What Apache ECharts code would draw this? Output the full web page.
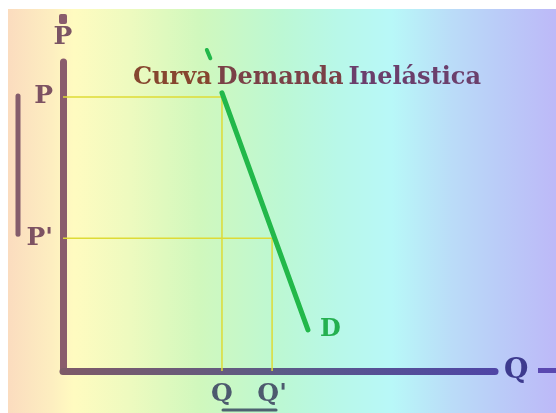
<!DOCTYPE html>
<html>
<head>
<meta charset="utf-8">
<script src="https://cdn.jsdelivr.net/npm/echarts@6/dist/echarts.min.js"></script>
<style>
html, body { margin: 0; padding: 0; background: #fff; }
.wrap { position: relative; width: 556px; height: 413px; overflow: hidden; }
.bg {
    position: absolute; left: 8px; top: 9px; width: 548px; height: 404px;
    background: linear-gradient(to right,
        #fbdcbf 0%, #fdeec0 8%, #fffbc0 12%, #eefabf 22%, #d0f8bd 35%,
        #bcf8d4 50%, #b8f8e8 60%, #b8f8f8 70%, #badcf8 81%, #bacbf8 90%, #bdb9f8 100%);
}
#chart { position: absolute; left: 0; top: 0; width: 556px; height: 413px; }
</style>
</head>
<body>
<div class="wrap">
    <div class="bg"></div>
    <div id="chart"></div>
</div>
<script>
// niveles de precio y cantidad (unidades del eje, 0-100)
const priceLevels = [88.7, 43.0];
const priceNames = ['P', "P'"];
const qtyLevels = [36.8, 48.4];
const qtyNames = ['Q', "Q'"];
// curva de demanda D
const demandX = [36.8, 56.7];
const demandY = [90.0, 13.3];
// trozo de la curva que asoma por encima del titulo
const demandTopX = [33.3, 34.1];
const demandTopY = [103.9, 101.2];

const serif = '"DejaVu Serif", "Liberation Serif", serif';
const green = '#22b84a';
const guide = '#dedb36';

let myChart = echarts.init(document.getElementById('chart'));

let guideSeries = priceLevels.map(function (p, i) {
    return {
        type: 'line',
        data: [[0, p], [qtyLevels[i], p], [qtyLevels[i], 0]],
        symbol: 'none',
        lineStyle: { color: guide, width: 1.5 },
        z: 1,
        silent: true
    };
});

let option = {
    animation: false,
    title: {
        text: '{a|Curva} {b|Demanda} {c|Inelástica}',
        left: 128,
        top: 61,
        textStyle: {
            rich: {
                a: { fontFamily: serif, fontWeight: 'bold', fontSize: 24, color: '#86462f' },
                b: { fontFamily: serif, fontWeight: 'bold', fontSize: 24, color: '#7a4147' },
                c: { fontFamily: serif, fontWeight: 'bold', fontSize: 24, color: '#6b3f6c' }
            }
        }
    },
    grid: { left: 63, right: 61, top: 62, bottom: 42, containLabel: false },
    xAxis: {
        type: 'value',
        min: 0,
        max: 100,
        name: 'Q',
        nameLocation: 'end',
        nameGap: 9,
        nameTextStyle: {
            fontFamily: serif, fontWeight: 'bold', fontSize: 28, color: '#3d3a8e',
            verticalAlign: 'middle',
            padding: [0, 0, 8, 0]
        },
        splitLine: { show: false },
        axisTick: { show: false },
        axisLine: {
            show: true,
            lineStyle: {
                width: 7,
                cap: 'round',
                color: new echarts.graphic.LinearGradient(0, 0, 1, 0, [
                    { offset: 0, color: '#7e5a68' },
                    { offset: 0.5, color: '#5b5a86' },
                    { offset: 1, color: '#4f45a6' }
                ])
            }
        },
        axisLabel: {
            customValues: qtyLevels,
            formatter: function (v) {
                return qtyNames[qtyLevels.indexOf(v)];
            },
            margin: 11,
            fontFamily: serif,
            fontWeight: 'bold',
            fontSize: 25,
            color: '#4d5a6e'
        }
    },
    yAxis: {
        type: 'value',
        min: 0,
        max: 100,
        name: 'P',
        nameLocation: 'end',
        nameGap: 12,
        nameTextStyle: {
            fontFamily: serif, fontWeight: 'bold', fontSize: 25, color: '#7b5464',
            align: 'center'
        },
        splitLine: { show: false },
        axisTick: { show: false },
        axisLine: {
            show: true,
            lineStyle: { width: 7, cap: 'round', color: '#8a5c6c' }
        },
        axisLabel: {
            customValues: priceLevels,
            formatter: function (v) {
                return priceNames[priceLevels.indexOf(v)];
            },
            margin: 10,
            verticalAlign: 'middle',
            fontFamily: serif,
            fontWeight: 'bold',
            fontSize: 25,
            color: '#7d5262'
        }
    },
    series: guideSeries.concat([
        {
            type: 'line',
            data: demandX.map(function (x, i) { return [x, demandY[i]]; }),
            symbol: 'none',
            lineStyle: { color: green, width: 5, cap: 'round' },
            endLabel: {
                show: true,
                formatter: 'D',
                distance: 12,
                fontFamily: serif,
                fontWeight: 'bold',
                fontSize: 24,
                color: '#25b050'
            },
            z: 3
        },
        {
            type: 'line',
            data: demandTopX.map(function (x, i) { return [x, demandTopY[i]]; }),
            symbol: 'none',
            clip: false,
            lineStyle: { color: green, width: 4, cap: 'round' },
            z: 3
        }
    ])
};

myChart.setOption(option);

// adornos: barra de variacion de precio, subrayado de Q-Q', restos de los ejes
let pTop = myChart.convertToPixel({ gridIndex: 0 }, [0, priceLevels[0]]);
let pBot = myChart.convertToPixel({ gridIndex: 0 }, [0, priceLevels[1]]);
let qA = myChart.convertToPixel({ gridIndex: 0 }, [qtyLevels[0], 0]);
let qB = myChart.convertToPixel({ gridIndex: 0 }, [qtyLevels[1], 0]);

myChart.setOption({
    graphic: [
        {
            type: 'line',
            shape: { x1: 18, y1: pTop[1] - 1, x2: 18, y2: pBot[1] - 4 },
            style: { stroke: '#845c6c', lineWidth: 5, lineCap: 'round' }
        },
        {
            type: 'line',
            shape: { x1: qA[0] + 1, y1: 410, x2: qB[0] + 4, y2: 410 },
            style: { stroke: '#4e6270', lineWidth: 3, lineCap: 'round' }
        },
        {
            type: 'rect',
            shape: { x: 59, y: 14, width: 8, height: 10, r: 2 },
            style: { fill: '#8a5c6c' }
        },
        {
            type: 'rect',
            shape: { x: 538, y: 368, width: 18, height: 5 },
            style: { fill: '#5a48b0' }
        }
    ]
});

window.addEventListener('resize', function () {
    myChart.resize();
});
</script>
</body>
</html>
